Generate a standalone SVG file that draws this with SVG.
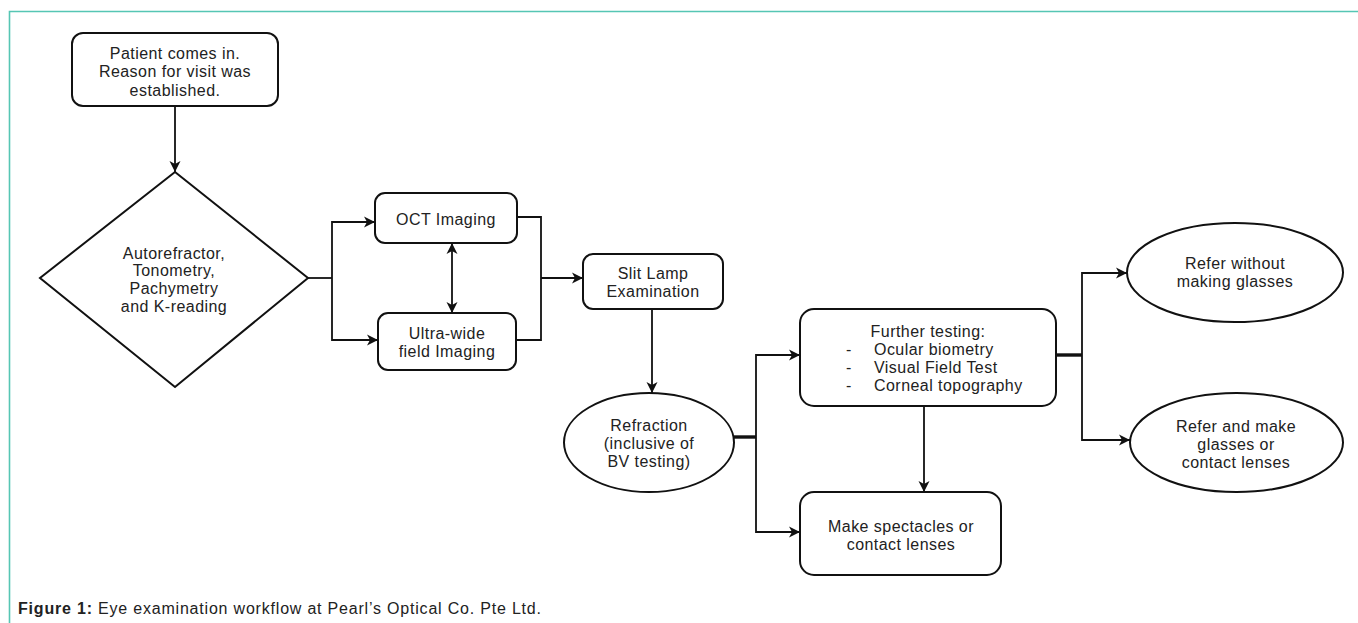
<svg xmlns="http://www.w3.org/2000/svg" width="1358" height="623" viewBox="0 0 1358 623">
<style>
.shape{fill:#fff;stroke:#111;stroke-width:2}
.t{font-family:"Liberation Sans",Arial,sans-serif;font-size:16px;letter-spacing:0.45px;fill:#222;text-anchor:middle}
.tl{text-anchor:start}
.c{fill:none;stroke:#111;stroke-width:1.8}
.thick{stroke-width:3.4}
.arr{marker-end:url(#ah)}
.frame{fill:none;stroke:#56c6b4;stroke-width:1.6}
.cap{font-family:"Liberation Sans",Arial,sans-serif;font-size:16px;letter-spacing:0.8px;fill:#222}
</style>
<defs>
<marker id="ah" markerWidth="12" markerHeight="12" refX="11" refY="6" orient="auto-start-reverse" markerUnits="userSpaceOnUse">
<path d="M0,0.5 L11,6 L0,11.5 L3,6 z" fill="#111"/>
</marker>
</defs>
<g id="frame">
<path class="frame" d="M9.5,623 V11.5 H1358"/>
</g>
<g id="connectors">
<path class="c arr" d="M175,106 V172"/>
<path class="c" d="M308,278 H332"/>
<path class="c arr" d="M332,278 V222 H375"/>
<path class="c arr" d="M332,278 V340 H378"/>
<path class="c" d="M452,243 V313" marker-start="url(#ah)" marker-end="url(#ah)"/>
<path class="c" d="M517,217 H541 V340 H516"/>
<path class="c arr" d="M541,278 H583"/>
<path class="c arr" d="M652,309 V393"/>
<path class="c thick" d="M734,437 H756"/>
<path class="c arr" d="M756,437 V355 H800"/>
<path class="c arr" d="M756,437 V532 H800"/>
<path class="c arr" d="M924,406 V492"/>
<path class="c thick" d="M1056,355 H1082"/>
<path class="c arr" d="M1082,355 V273 H1127"/>
<path class="c arr" d="M1082,355 V440 H1130"/>
</g>
<g id="patient">
<rect class="shape" x="72" y="33" width="206" height="73" rx="11"/>
<text class="t" x="175" y="59">Patient comes in.</text>
<text class="t" x="175" y="77.3">Reason for visit was</text>
<text class="t" x="175" y="95.6">established.</text>
</g>
<g id="tests">
<polygon class="shape" points="175,172 308,278 175,387 40,278"/>
<text class="t" x="174" y="258.5">Autorefractor,</text>
<text class="t" x="174" y="276.3">Tonometry,</text>
<text class="t" x="174" y="294.1">Pachymetry</text>
<text class="t" x="174" y="311.9">and K-reading</text>
</g>
<g id="oct">
<rect class="shape" x="375" y="193" width="142" height="50" rx="10"/>
<text class="t" x="446" y="224.5">OCT Imaging</text>
</g>
<g id="ultrawide">
<rect class="shape" x="378" y="313" width="138" height="57" rx="10"/>
<text class="t" x="447" y="339">Ultra-wide</text>
<text class="t" x="447" y="356.7">field Imaging</text>
</g>
<g id="slitlamp">
<rect class="shape" x="583" y="254" width="140" height="55" rx="10"/>
<text class="t" x="653" y="279.3">Slit Lamp</text>
<text class="t" x="653" y="296.7">Examination</text>
</g>
<g id="refraction">
<ellipse class="shape" cx="649" cy="442.5" rx="85" ry="49.5"/>
<text class="t" x="649" y="430.5">Refraction</text>
<text class="t" x="649" y="448.8">(inclusive of</text>
<text class="t" x="649" y="467.1">BV testing)</text>
</g>
<g id="further">
<rect class="shape" x="800" y="309" width="256" height="97" rx="14"/>
<text class="t" x="928" y="336.5">Further testing:</text>
<text class="t tl" x="846" y="354.8">-</text>
<text class="t tl" x="874" y="354.8">Ocular biometry</text>
<text class="t tl" x="846" y="373.1">-</text>
<text class="t tl" x="874" y="373.1">Visual Field Test</text>
<text class="t tl" x="846" y="391.4">-</text>
<text class="t tl" x="874" y="391.4">Corneal topography</text>
</g>
<g id="spectacles">
<rect class="shape" x="800" y="492" width="201" height="83" rx="14"/>
<text class="t" x="901" y="531.5">Make spectacles or</text>
<text class="t" x="901" y="549.8">contact lenses</text>
</g>
<g id="refer-without">
<ellipse class="shape" cx="1235" cy="272.5" rx="108" ry="49.5"/>
<text class="t" x="1235" y="268.5">Refer without</text>
<text class="t" x="1235" y="286.8">making glasses</text>
</g>
<g id="refer-make">
<ellipse class="shape" cx="1236.5" cy="442.5" rx="106.5" ry="49.5"/>
<text class="t" x="1236" y="431.5">Refer and make</text>
<text class="t" x="1236" y="449.8">glasses or</text>
<text class="t" x="1236" y="468.1">contact lenses</text>
</g>
<g id="caption">
<text class="cap" x="18" y="614"><tspan font-weight="bold">Figure 1:</tspan> Eye examination workflow at Pearl’s Optical Co. Pte Ltd.</text>
</g>
</svg>
